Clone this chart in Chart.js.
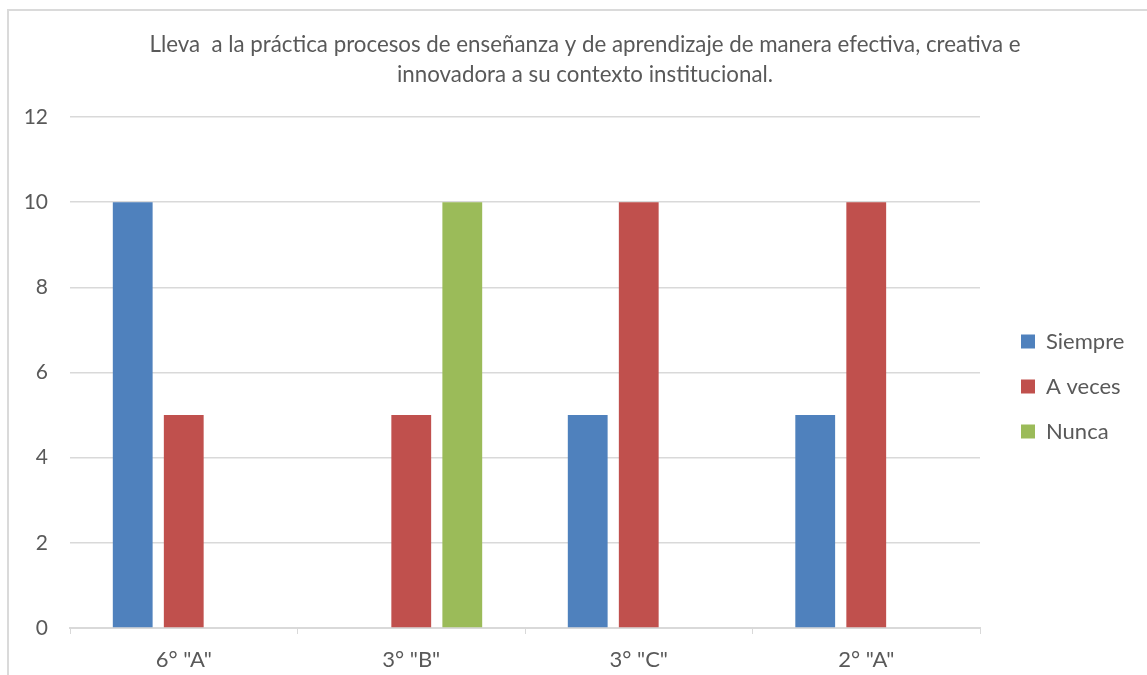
<!DOCTYPE html>
<html>
<head>
<meta charset="utf-8">
<script src="https://cdn.jsdelivr.net/npm/chart.js@4.4.0/dist/chart.umd.min.js"></script>
<style>
    html, body { margin: 0; padding: 0; background: #ffffff; overflow: hidden; }
    #wrap { position: absolute; left: 0; top: 0; width: 1170px; height: 675px; }
    #frame { position: absolute; left: 7px; top: 9px; width: 1200px; height: 700px;
             border: 2px solid #dadada; pointer-events: none; }
</style>
</head>
<body>
<div id="wrap"><canvas id="chart" width="1170" height="675"></canvas></div>
<div id="frame"></div>
<script>
// ==================== DATA ====================
const categories = ['6° "A"', '3° "B"', '3° "C"', '2° "A"'];
const siempre = [10, 0, 5, 5];
const aVeces = [5, 5, 10, 10];
const nunca = [0, 10, 0, 0];
const titleLines = [
    'Lleva  a la práctica procesos de enseñanza y de aprendizaje de manera efectiva, creativa e',
    'innovadora a su contexto institucional.'
];

const textColor = '#595959';
const gridColor = '#d9d9d9';
const fontFamily = 'Lato, "Liberation Sans", sans-serif';

// fixed legend column width, and move the items down to where the original has them
const legendFix = {
    id: 'legendFix',
    beforeUpdate(chart) {
        const lg = chart.legend;
        if (lg && !lg._fixed) {
            const fit = lg.fit.bind(lg);
            lg.fit = function() {
                fit();
                this.width = 172;
            };
            lg._fixed = true;
        }
    },
    afterLayout(chart) {
        const lg = chart.legend;
        if (lg) {
            lg.top += 49;
            lg.bottom += 49;
        }
    }
};

new Chart(document.getElementById('chart'), {
    type: 'bar',
    data: {
        labels: categories,
        datasets: [
            { label: 'Siempre', data: siempre, backgroundColor: '#4f81bd' },
            { label: 'A veces', data: aVeces, backgroundColor: '#c0504d' },
            { label: 'Nunca', data: nunca, backgroundColor: '#9bbb59' }
        ]
    },
    options: {
        responsive: false,
        animation: false,
        categoryPercentage: 0.673,
        barPercentage: 0.78,
        layout: { padding: 0 },
        plugins: {
            title: {
                display: true,
                text: titleLines,
                color: textColor,
                font: { family: fontFamily, size: 22.3, weight: 'normal', lineHeight: 1.345 },
                padding: { top: 30, bottom: 27 }
            },
            legend: {
                position: 'right',
                labels: {
                    color: textColor,
                    font: { family: fontFamily, size: 22 },
                    boxWidth: 14,
                    boxHeight: 14,
                    padding: 23
                }
            },
            tooltip: { enabled: false }
        },
        scales: {
            x: {
                grid: { display: true, drawOnChartArea: false, drawTicks: true, tickLength: 6, color: gridColor },
                border: { display: true, color: gridColor, width: 2 },
                ticks: { color: textColor, font: { family: fontFamily, size: 22 }, padding: 13 },
                afterFit(scale) { scale.height = 47; }
            },
            y: {
                min: 0,
                max: 12,
                ticks: { stepSize: 2, color: textColor, font: { family: fontFamily, size: 21 }, padding: 22 },
                grid: { color: gridColor, lineWidth: 1.5, drawTicks: false },
                border: { display: false },
                afterFit(scale) { scale.width = 70; }
            },
            gap: {
                position: 'right',
                display: true,
                grid: { display: false },
                border: { display: false },
                ticks: { display: false },
                afterFit(scale) { scale.width = 18; }
            }
        }
    },
    plugins: [legendFix]
});
</script>
</body>
</html>
